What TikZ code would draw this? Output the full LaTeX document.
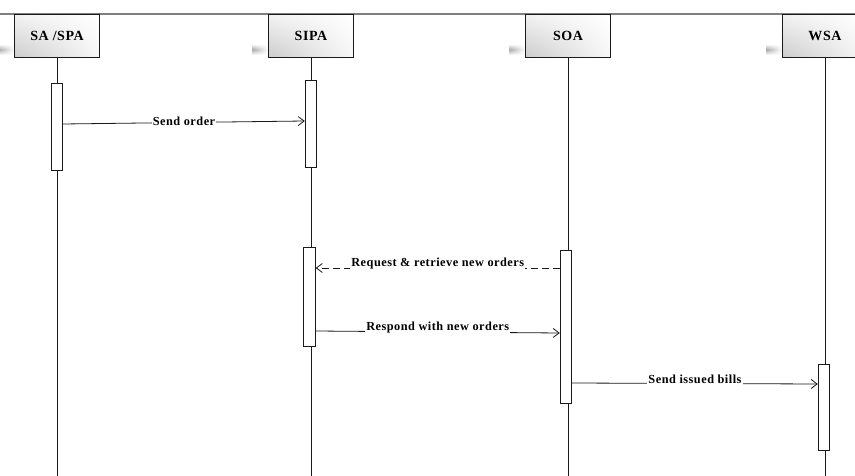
\documentclass[tikz,border=0pt]{standalone}
\usepackage{fontspec}
\setmainfont{Liberation Serif}
\newfontfamily\boxfont[LetterSpace=4]{Liberation Serif}
\usepackage{xcolor}
\usetikzlibrary{arrows.meta,positioning,calc,shadings,fadings}
\definecolor{ink}{HTML}{1A1A1A}
\definecolor{frame}{HTML}{808080}
\definecolor{boxgray}{HTML}{CCCCCC}
\tikzset{
  >={Straight Barb[length=6pt,width=9pt]},
  actor/.style={draw=ink, line width=1pt, minimum width=85pt, minimum height=43pt,
    anchor=north west, inner sep=0pt, lower left=boxgray, upper right=white,
    lower right=white!85!boxgray, upper left=white!75!boxgray,
    font=\boxfont\fontsize{14}{16}\selectfont\bfseries},
  bar/.style={draw=ink, fill=white, line width=.9pt, minimum width=11.5pt, inner sep=0pt, anchor=north},
  life/.style={draw=ink, line width=.8pt},
  msg/.style={->, draw=ink, line width=.8pt},
  reply/.style={msg, dash pattern=on 7pt off 4pt},
  lbl/.style={fill=white, inner sep=1pt, yshift=4pt,
    font=\boxfont\fontsize{12.3}{14}\selectfont\bfseries}
}
\begin{document}
\begin{tikzpicture}[x=1pt,y=-1pt]
  \clip (0,0) rectangle (855,476);
  \fill[white] (0,0) rectangle (855,476);
  \draw[frame, line width=1.3pt] (0,14) -- (855,14);

  % shadows on the left of the headers
  \foreach \x in {14,268,525,782}
    \shade[top color=white, bottom color=white, middle color=black!35, path fading=east]
      (\x-16,44) rectangle (\x,55);

  % headers
  \node[actor] (sa) at (14,14) {SA /SPA};
  \node[actor] (sipa) at (268,14) {SIPA};
  \node[actor] (soa) at (525,14) {SOA};
  \node[actor] (wsa) at (782,14) {WSA};

  % lifelines
  \foreach \a in {sa,sipa,soa,wsa}{
    \coordinate (\a end) at (\a.south |- 0,476);
    \draw[life] (\a.south) -- (\a end);
  }

  % activations
  \node[bar, minimum height=87pt] (sabar) at (sa.south |- 0,83) {};
  \node[bar, minimum height=87pt] (sipabar) at (sipa.south |- 0,80) {};
  \node[bar, minimum height=99pt, xshift=-1.5pt] (sipabarb) at (sipa.south |- 0,247) {};
  \node[bar, minimum height=153pt, xshift=-2pt] (soabar) at (soa.south |- 0,250) {};
  \node[bar, minimum height=86pt, xshift=-1pt] (wsabar) at (wsa.south |- 0,364) {};

  % messages
  \draw[msg] (sabar.east |- 0,124) -- node[lbl, yshift=-2.5pt] {Send order} (sipabar.west |- 0,121);
  \draw[reply] (soabar.west |- 0,268) -- node[lbl] {Request \& retrieve new orders} (sipabarb.east |- 0,268);
  \draw[msg] (sipabarb.east |- 0,331) -- node[lbl] {Respond with new orders} (soabar.west |- 0,333);
  \draw[msg] (soabar.east |- 0,383) -- node[lbl] {Send issued bills} (wsabar.west |- 0,384);
\end{tikzpicture}
\end{document}
